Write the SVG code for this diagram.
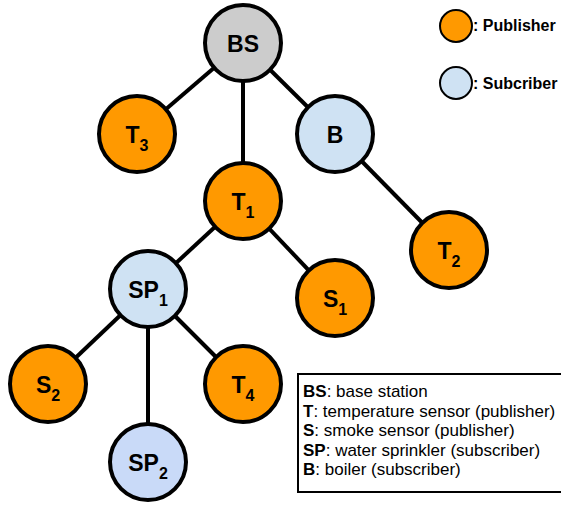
<svg xmlns="http://www.w3.org/2000/svg" width="561" height="508" viewBox="0 0 561 508">
<style>
.n{stroke:#000;stroke-width:4}
.pub{fill:#ff9900}
.sub{fill:#cfe2f3}
.lbl{font-family:"Liberation Sans",Arial,sans-serif;font-weight:bold;font-size:23px;text-anchor:middle;fill:#000}
.s{font-size:16px}
.e{stroke:#000;stroke-width:4;fill:none}
.leg{font-family:"Liberation Sans",Arial,sans-serif;font-size:17px;fill:#000}
.lb{font-weight:bold}
</style>
<rect width="561" height="508" fill="#fff"/>
<g id="connectors">
<line class="e" x1="243" y1="43" x2="137" y2="134"/>
<line class="e" x1="243" y1="43" x2="243" y2="201"/>
<line class="e" x1="243" y1="43" x2="335" y2="134"/>
<line class="e" x1="335" y1="134" x2="449" y2="250"/>
<line class="e" x1="243" y1="201" x2="148" y2="289"/>
<line class="e" x1="243" y1="201" x2="335" y2="298"/>
<line class="e" x1="148" y1="289" x2="48" y2="384"/>
<line class="e" x1="148" y1="289" x2="148" y2="462"/>
<line class="e" x1="148" y1="289" x2="243" y2="384"/>
</g>
<g id="BS"><circle class="n" cx="243" cy="43" r="38" fill="#cccccc"/><text class="lbl" x="243" y="52">BS</text></g>
<g id="T3"><circle class="n pub" cx="137" cy="134" r="38"/><text class="lbl" x="137" y="143">T<tspan class="s" dy="8">3</tspan></text></g>
<g id="B"><circle class="n sub" cx="335" cy="134" r="38"/><text class="lbl" x="335" y="143">B</text></g>
<g id="T1"><circle class="n pub" cx="243" cy="201" r="38"/><text class="lbl" x="243" y="210">T<tspan class="s" dy="8">1</tspan></text></g>
<g id="T2"><circle class="n pub" cx="449" cy="250" r="38"/><text class="lbl" x="449" y="259">T<tspan class="s" dy="8">2</tspan></text></g>
<g id="SP1"><circle class="n sub" cx="148" cy="289" r="38"/><text class="lbl" x="148" y="298">SP<tspan class="s" dy="8">1</tspan></text></g>
<g id="S1"><circle class="n pub" cx="335" cy="298" r="38"/><text class="lbl" x="335" y="307">S<tspan class="s" dy="8">1</tspan></text></g>
<g id="S2"><circle class="n pub" cx="48" cy="384" r="38"/><text class="lbl" x="48" y="393">S<tspan class="s" dy="8">2</tspan></text></g>
<g id="T4"><circle class="n pub" cx="243" cy="384" r="38"/><text class="lbl" x="243" y="393">T<tspan class="s" dy="8">4</tspan></text></g>
<g id="SP2"><circle class="n" cx="148" cy="462" r="38" fill="#c9daf8"/><text class="lbl" x="148" y="471">SP<tspan class="s" dy="8">2</tspan></text></g>
<g id="legend">
<circle cx="456" cy="26" r="16" fill="#ff9900" stroke="#000" stroke-width="2"/>
<text class="leg lb" x="473" y="31" style="font-size:16px">: Publisher</text>
<circle cx="456" cy="83" r="16" fill="#cfe2f3" stroke="#000" stroke-width="2"/>
<text class="leg lb" x="473" y="89" style="font-size:16px">: Subcriber</text>
</g>
<g id="key">
<rect x="298" y="374" width="270" height="118" fill="#fff" stroke="#000" stroke-width="2"/>
<text class="leg" x="303" y="397"><tspan class="lb">BS</tspan>: base station</text>
<text class="leg" x="303" y="416.5"><tspan class="lb">T</tspan>: temperature sensor (publisher)</text>
<text class="leg" x="303" y="436"><tspan class="lb">S</tspan>: smoke sensor (publisher)</text>
<text class="leg" x="303" y="455.5"><tspan class="lb">SP</tspan>: water sprinkler (subscriber)</text>
<text class="leg" x="303" y="475"><tspan class="lb">B</tspan>: boiler (subscriber)</text>
</g>
</svg>
